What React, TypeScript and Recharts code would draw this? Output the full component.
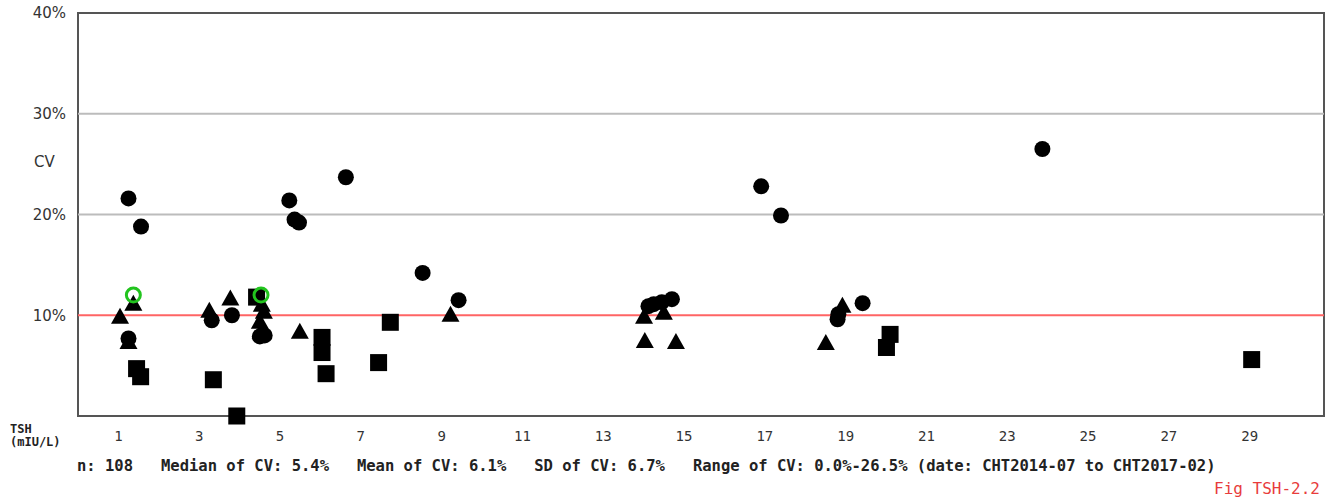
import {
  ReferenceArea,
  ReferenceLine,
  Scatter,
  ScatterChart,
  XAxis,
  YAxis
} from 'recharts';

interface CvPoint {
  tsh: number;
  cv: number;
}

const xTicks = [1, 3, 5, 7, 9, 11, 13, 15, 17, 19, 21, 23, 25, 27, 29];
const yTicks = [10, 20, 30, 40];
const X_MAX = 30.84;

const circlePoints: CvPoint[] = [
  { tsh: 1.25, cv: 21.6 },
  { tsh: 1.56, cv: 18.8 },
  { tsh: 1.25, cv: 7.7 },
  { tsh: 3.31, cv: 9.5 },
  { tsh: 3.81, cv: 10.0 },
  { tsh: 4.5, cv: 7.9 },
  { tsh: 4.62, cv: 8.0 },
  { tsh: 5.23, cv: 21.4 },
  { tsh: 5.36, cv: 19.5 },
  { tsh: 5.47, cv: 19.2 },
  { tsh: 6.63, cv: 23.7 },
  { tsh: 8.53, cv: 14.2 },
  { tsh: 9.42, cv: 11.5 },
  { tsh: 14.12, cv: 10.9 },
  { tsh: 14.25, cv: 11.1 },
  { tsh: 14.45, cv: 11.3 },
  { tsh: 14.7, cv: 11.6 },
  { tsh: 16.91, cv: 22.8 },
  { tsh: 17.4, cv: 19.9 },
  { tsh: 18.8, cv: 9.6 },
  { tsh: 18.82, cv: 10.1 },
  { tsh: 19.42, cv: 11.2 },
  { tsh: 23.87, cv: 26.5 }
];

const trianglePoints: CvPoint[] = [
  { tsh: 1.04, cv: 9.9 },
  { tsh: 1.37, cv: 11.2 },
  { tsh: 1.25, cv: 7.4 },
  { tsh: 3.25, cv: 10.5 },
  { tsh: 3.77, cv: 11.7 },
  { tsh: 4.55, cv: 11.1 },
  { tsh: 4.6, cv: 10.4 },
  { tsh: 4.5, cv: 9.4 },
  { tsh: 4.52, cv: 8.4 },
  { tsh: 5.49, cv: 8.4 },
  { tsh: 9.22, cv: 10.1 },
  { tsh: 14.01, cv: 9.9 },
  { tsh: 14.5, cv: 10.3 },
  { tsh: 14.03, cv: 7.5 },
  { tsh: 14.8, cv: 7.4 },
  { tsh: 18.51, cv: 7.3 },
  { tsh: 18.92, cv: 11.0 }
];

const squarePoints: CvPoint[] = [
  { tsh: 1.45, cv: 4.7 },
  { tsh: 1.55, cv: 3.9 },
  { tsh: 3.35, cv: 3.6 },
  { tsh: 3.93, cv: 0 },
  { tsh: 4.42, cv: 11.8 },
  { tsh: 6.04, cv: 7.8 },
  { tsh: 6.04, cv: 6.3 },
  { tsh: 6.14, cv: 4.2 },
  { tsh: 7.44, cv: 5.3 },
  { tsh: 7.73, cv: 9.3 },
  { tsh: 20.01, cv: 6.8 },
  { tsh: 20.1, cv: 8.1 },
  { tsh: 29.05, cv: 5.6 }
];

const highlightPoints: CvPoint[] = [
  { tsh: 1.37, cv: 12.0 },
  { tsh: 4.53, cv: 12.0 }
];

const statsLine =
  'n: 108   Median of CV: 5.4%   Mean of CV: 6.1%   SD of CV: 6.7%   Range of CV: 0.0%-26.5% (date: CHT2014-07 to CHT2017-02)';

const mono = '"DejaVu Sans Mono", "Liberation Mono", monospace';
const sans = '"DejaVu Sans", Verdana, sans-serif';

const CircleMark = (p: any) => <circle cx={p.cx} cy={p.cy} r={8} fill="#000" />;
const SquareMark = (p: any) => <rect x={p.cx - 8.5} y={p.cy - 8.5} width={17} height={17} fill="#000" />;
const TriangleMark = (p: any) => (
  <polygon
    points={`${p.cx},${p.cy - 8.5} ${p.cx - 9},${p.cy + 7.5} ${p.cx + 9},${p.cy + 7.5}`}
    fill="#000"
  />
);
const HighlightMark = (p: any) => (
  <circle cx={p.cx} cy={p.cy} r={7} fill="none" stroke="#22c41e" strokeWidth={3} />
);

export default function App() {
  return (
    <div
      style={{
        position: 'absolute',
        left: 0,
        top: 0,
        width: 1325,
        height: 501,
        background: '#fff',
        overflow: 'hidden'
      }}
    >
      <ScatterChart width={1325} height={501} margin={{ top: 13, right: 1, bottom: 55, left: 0 }}>
        <XAxis
          type="number"
          dataKey="tsh"
          domain={[0, X_MAX]}
          ticks={xTicks}
          allowDataOverflow
          axisLine={false}
          tickLine={false}
          tickSize={0}
          tickMargin={15}
          height={30}
          tick={{ fill: '#333', fontSize: 14, fontFamily: mono }}
        />
        <YAxis
          type="number"
          dataKey="cv"
          domain={[0, 40]}
          ticks={yTicks}
          tickFormatter={(v) => `${v}%`}
          axisLine={false}
          tickLine={false}
          tickSize={0}
          tickMargin={12}
          width={78}
          tick={{ fill: '#333', fontSize: 15, fontFamily: sans }}
        />
        <ReferenceLine y={20} stroke="#bcbcbc" strokeWidth={2} />
        <ReferenceLine y={30} stroke="#bcbcbc" strokeWidth={2} />
        <ReferenceLine y={10} stroke="#ff6464" strokeWidth={2} />
        <ReferenceArea x1={0} x2={X_MAX} y1={0} y2={40} fill="none" stroke="#555" strokeWidth={2} />
        <Scatter data={squarePoints} shape={SquareMark} isAnimationActive={false} />
        <Scatter data={trianglePoints} shape={TriangleMark} isAnimationActive={false} />
        <Scatter data={circlePoints} shape={CircleMark} isAnimationActive={false} />
        <Scatter data={highlightPoints} shape={HighlightMark} isAnimationActive={false} />
      </ScatterChart>

      <div
        style={{
          position: 'absolute',
          left: 34,
          top: 153,
          fontFamily: sans,
          fontSize: 15,
          color: '#333'
        }}
      >
        CV
      </div>
      <div
        style={{
          position: 'absolute',
          left: 10,
          top: 423,
          fontFamily: mono,
          fontSize: 12,
          fontWeight: 'bold',
          lineHeight: '13px',
          color: '#222'
        }}
      >
        TSH
        <br />
        (mIU/L)
      </div>
      <div
        style={{
          position: 'absolute',
          left: 77,
          top: 457,
          fontFamily: mono,
          fontSize: 15.5,
          fontWeight: 'bold',
          whiteSpace: 'pre',
          color: '#222'
        }}
      >
        {statsLine}
      </div>
      <div
        style={{
          position: 'absolute',
          right: 5,
          top: 479,
          fontFamily: mono,
          fontSize: 16,
          color: '#e83c3c'
        }}
      >
        Fig TSH-2.2
      </div>
    </div>
  );
}
